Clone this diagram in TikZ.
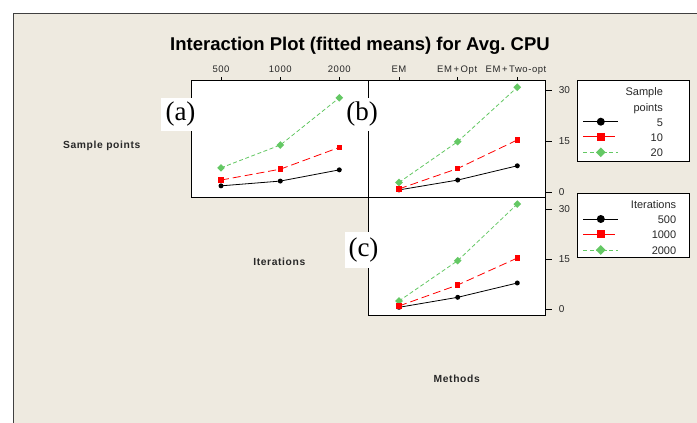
\documentclass[tikz,border=0pt]{standalone}
\usepackage{fontspec}
\setsansfont{Liberation Sans}
\newfontfamily\axfont[LetterSpace=6]{Liberation Sans}
\newfontfamily\panelfont{Liberation Serif}
\usetikzlibrary{shapes.geometric}

\definecolor{bgbeige}{RGB}{238,234,224}
\definecolor{ptgreen}{RGB}{100,200,100}
\definecolor{txtgray}{RGB}{40,40,40}

% y of a fitted mean: top row (a),(b) and panel (c)
\newcommand{\yt}[1]{192.3-3.4*#1}
\newcommand{\yc}[1]{309.3-3.33*#1}
\newcommand{\fs}[1]{\fontsize{#1}{#1}\selectfont}

\begin{document}
\begin{tikzpicture}[x=1pt, y=-1pt, line width=0.9pt,
  font=\sffamily, text=txtgray,
  dotb/.style={circle, fill=black, inner sep=0pt, minimum size=5pt},
  sqr/.style={rectangle, fill=red, inner sep=0pt, minimum size=5.5pt},
  dia/.style={diamond, fill=ptgreen, inner sep=0pt, minimum size=8pt},
  lineb/.style={black, line width=0.8pt},
  liner/.style={red, line width=0.8pt, dash pattern=on 8pt off 4pt},
  lineg/.style={ptgreen, line width=0.8pt, dash pattern=on 4pt off 2.5pt},
  tick/.style={font=\axfont\fs{9.5}, anchor=base},
  num/.style={font=\sffamily\fs{10}, anchor=west},
  legtxt/.style={font=\sffamily\fs{11}, anchor=base east},
  axlab/.style={font=\axfont\bfseries\fs{10.3}},
  panel/.style={fill=white, inner sep=0pt, text=black, font=\panelfont\fs{27}}]
  \useasboundingbox (0,0) rectangle (697,423);
  \fill[white] (0,0) rectangle (697,423);
  \fill[bgbeige] (13.5,13.3) rectangle (697,423);
  \draw[black!75, line width=1pt] (13.5,423) -- (13.5,13.3) -- (697,13.3);

  \node[font=\sffamily\bfseries\fs{18.5}, text=black, anchor=base] (title) at (360,50)
    {Interaction Plot (fitted means) for Avg.\ CPU};

  % plot boxes
  \draw[fill=white] (191.7,80.7) rectangle (368,197.3);
  \draw[fill=white] (368,80.7) rectangle (545.7,197.3);
  \draw[fill=white] (368,197.3) rectangle (545.7,315);

  % top ticks
  \foreach \x in {221,280.3,339.3,399,457.7,517.3}
    \draw[line width=0.8pt] (\x,77) -- (\x,80.7);
  \node[tick] (t500) at (221,72.7) {500};
  \node[tick] (t1000) at (280.3,72.7) {1000};
  \node[tick] (t2000) at (339.3,72.7) {2000};
  \node[tick] (tem) at (399,72.7) {EM};
  \node[tick] (topt) at (457.2,72.7) {EM\,+\,Opt};
  \node[tick] (ttwo) at (516,72.7) {EM\,+\,Two-opt};

  % right ticks
  \foreach \v in {0,15,30} {
    \draw[line width=0.8pt] (545.7,{\yt{\v}}) -- (551.7,{\yt{\v}});
    \draw[line width=0.8pt] (545.7,{\yc{\v}}) -- (551.7,{\yc{\v}});
  }
  \node[num] (nb30) at (555,{\yt{30}}) {30};
  \node[num] (nb15) at (555,{\yt{15}}) {15};
  \node[num] (nb0) at (555,{\yt{0}}) {0};
  \node[num] (nc30) at (555,{\yc{30}}) {30};
  \node[num] (nc15) at (555,{\yc{15}}) {15};
  \node[num] (nc0) at (555,{\yc{0}}) {0};

  % panel (a): sample points vs iterations
  \node[dia] (ag1) at (221,{\yt{7.2}}) {};
  \node[dia] (ag2) at (280.3,{\yt{13.9}}) {};
  \node[dia] (ag3) at (339.3,{\yt{27.8}}) {};
  \draw[lineg] (ag1.center) -- (ag2.center) -- (ag3.center);
  \node[dotb] (ak1) at (221,{\yt{1.9}}) {};
  \node[dotb] (ak2) at (280.3,{\yt{3.3}}) {};
  \node[dotb] (ak3) at (339.3,{\yt{6.6}}) {};
  \draw[lineb] (ak1.center) -- (ak2.center) -- (ak3.center);
  \node[sqr] (ar1) at (221,{\yt{3.6}}) {};
  \node[sqr] (ar2) at (280.3,{\yt{6.8}}) {};
  \node[sqr] (ar3) at (339.3,{\yt{13.2}}) {};
  \draw[liner] (ar1.center) -- (ar2.center) -- (ar3.center);

  % panel (b): sample points vs methods
  \node[dia] (bg1) at (399,{\yt{2.9}}) {};
  \node[dia] (bg2) at (457.7,{\yt{14.9}}) {};
  \node[dia] (bg3) at (517.3,{\yt{30.9}}) {};
  \draw[lineg] (bg1.center) -- (bg2.center) -- (bg3.center);
  \node[dotb] (bk1) at (399,{\yt{0.7}}) {};
  \node[dotb] (bk2) at (457.7,{\yt{3.6}}) {};
  \node[dotb] (bk3) at (517.3,{\yt{7.8}}) {};
  \draw[lineb] (bk1.center) -- (bk2.center) -- (bk3.center);
  \node[sqr] (br1) at (399,{\yt{1.0}}) {};
  \node[sqr] (br2) at (457.7,{\yt{7.0}}) {};
  \node[sqr] (br3) at (517.3,{\yt{15.4}}) {};
  \draw[liner] (br1.center) -- (br2.center) -- (br3.center);

  % panel (c): iterations vs methods
  \node[dia] (cg1) at (399,{\yc{2.5}}) {};
  \node[dia] (cg2) at (457.7,{\yc{14.6}}) {};
  \node[dia] (cg3) at (517.3,{\yc{31.6}}) {};
  \draw[lineg] (cg1.center) -- (cg2.center) -- (cg3.center);
  \node[dotb] (ck1) at (399,{\yc{0.6}}) {};
  \node[dotb] (ck2) at (457.7,{\yc{3.6}}) {};
  \node[dotb] (ck3) at (517.3,{\yc{7.9}}) {};
  \draw[lineb] (ck1.center) -- (ck2.center) -- (ck3.center);
  \node[sqr] (cr1) at (399,{\yc{1.0}}) {};
  \node[sqr] (cr2) at (457.7,{\yc{7.3}}) {};
  \node[sqr] (cr3) at (517.3,{\yc{15.4}}) {};
  \draw[liner] (cr1.center) -- (cr2.center) -- (cr3.center);

  % panel letters
  \node[panel, minimum width=39pt, minimum height=33pt] (pa) at (180.5,114) {(a)};
  \node[panel, minimum width=38pt, minimum height=33pt] (pb) at (362,114) {(b)};
  \node[panel, minimum width=37pt, minimum height=36pt] (pc) at (363.5,250) {(c)};

  % legends
  \draw[fill=white] (577.7,80.7) rectangle (689.3,161.7);
  \node[legtxt] (lgs) at (666.7,95.5) {Sample};
  \node[legtxt] (lgp) at (666.7,111) {points};
  \node[legtxt] (lg5) at (666.7,126) {5};
  \node[legtxt] (lg10) at (666.7,141) {10};
  \node[legtxt] (lg20) at (666.7,156) {20};
  \coordinate (s5a) at (583.3,121.7);  \coordinate (s5b) at (618.3,121.7);
  \coordinate (s10a) at (583.3,136.7); \coordinate (s10b) at (615,136.7);
  \coordinate (s20a) at (583.3,152.3); \coordinate (s20b) at (618.3,152.3);
  \draw[lineb] (s5a) -- node[dotb, minimum size=8pt] (m5) {} (s5b);
  \draw[red, line width=0.8pt] (s10a) -- (s10b);
  \node[sqr, minimum size=8pt] (m10) at (600.7,136.7) {};
  \draw[lineg] (s20a) -- node[dia, minimum size=10pt] (m20) {} (s20b);

  \draw[fill=white] (577.7,193.3) rectangle (689.3,257.7);
  \node[legtxt] (lgi) at (680,208.3) {Iterations};
  \node[legtxt] (lg500) at (680,223.3) {500};
  \node[legtxt] (lg1000) at (680,238.3) {1000};
  \node[legtxt] (lg2000) at (680,254) {2000};
  \coordinate (i5a) at (583.3,219);  \coordinate (i5b) at (618.3,219);
  \coordinate (i10a) at (583.3,234); \coordinate (i10b) at (615,234);
  \coordinate (i20a) at (583.3,250); \coordinate (i20b) at (618.3,250);
  \draw[lineb] (i5a) -- node[dotb, minimum size=8pt] (m500) {} (i5b);
  \draw[red, line width=0.8pt] (i10a) -- (i10b);
  \node[sqr, minimum size=8pt] (m1000) at (600.7,234) {};
  \draw[lineg] (i20a) -- node[dia, minimum size=10pt] (m2000) {} (i20b);

  % factor names
  \node[axlab] (ysp) at (101.7,145.7) {Sample points};
  \node[axlab] (xit) at (279.3,262.3) {Iterations};
  \node[axlab] (xme) at (456.7,379.3) {Methods};
\end{tikzpicture}
\end{document}
